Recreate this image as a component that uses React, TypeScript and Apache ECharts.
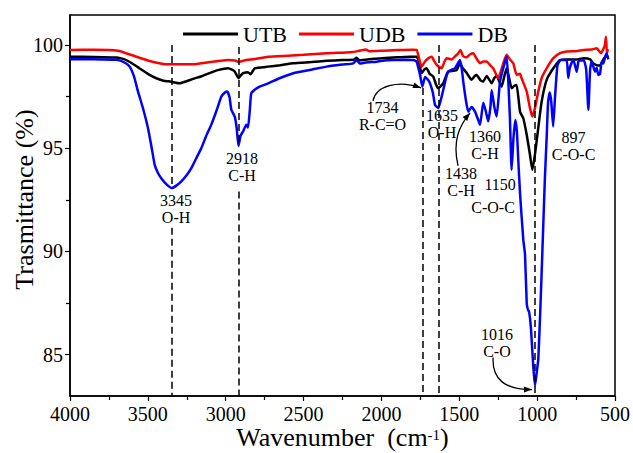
import React, { useEffect, useRef } from "react";
import * as echarts from "echarts";

const SERIES_NAMES = ["UTB", "UDB", "DB"];
const COLORS = ["#000000", "#ff0000", "#0000ff"];

const UTB: [number, number][] = [
  [4000, 99.43], [3850, 99.42], [3700, 99.39], [3650, 99.3], [3600, 99.1], [3550, 98.85], [3500, 98.6],
  [3450, 98.4], [3400, 98.27], [3351, 98.22], [3296, 98.14], [3250, 98.25], [3200, 98.38], [3159, 98.47],
  [3100, 98.65], [3050, 98.78], [2985, 98.87], [2960, 98.8], [2942, 98.71], [2917, 98.39], [2900, 98.55],
  [2889, 98.63], [2857, 98.68], [2840, 98.58], [2814, 98.87], [2728, 98.95], [2650, 99.02], [2566, 99.11],
  [2450, 99.17], [2352, 99.23], [2250, 99.27], [2180, 99.28], [2159, 99.38], [2140, 99.25], [2050, 99.33],
  [2000, 99.35], [1950, 99.38], [1900, 99.4], [1850, 99.42], [1774, 99.43], [1760, 99.2], [1742, 98.63],
  [1725, 98.8], [1710, 98.87], [1690, 98.6], [1667, 98.47], [1650, 98.1], [1635, 97.9], [1620, 98.0],
  [1603, 98.14], [1585, 98.5], [1571, 98.71], [1540, 98.75], [1517, 98.78], [1496, 99.11], [1480, 98.9],
  [1453, 98.65], [1421, 98.31], [1400, 98.5], [1389, 98.55], [1365, 98.3], [1346, 98.23], [1324, 98.5],
  [1292, 98.14], [1275, 98.4], [1260, 98.5], [1228, 97.98], [1210, 98.5], [1196, 98.87], [1180, 98.4],
  [1164, 97.9], [1150, 98.0], [1132, 98.06], [1110, 96.77], [1089, 96.45], [1067, 95.65], [1046, 94.68],
  [1031, 93.95], [1014, 94.7], [993, 95.97], [971, 97.26], [939, 98.31], [896, 98.87], [853, 99.27],
  [810, 99.3], [750, 99.3], [703, 99.35], [660, 99.3], [639, 99.1], [610, 99.0], [596, 99.0], [575, 99.3],
  [554, 99.5], [545, 99.4],
];

const UDB: [number, number][] = [
  [4000, 99.76], [3850, 99.77], [3692, 99.72], [3600, 99.5], [3500, 99.25], [3390, 99.07], [3300, 99.06],
  [3197, 99.07], [3100, 99.17], [2985, 99.27], [2940, 99.25], [2918, 99.18], [2880, 99.25], [2812, 99.32],
  [2728, 99.43], [2600, 99.48], [2500, 99.52], [2352, 99.6], [2200, 99.65], [2150, 99.7], [2100, 99.78],
  [2080, 99.7], [2000, 99.72], [1900, 99.75], [1800, 99.77], [1774, 99.76], [1760, 99.4], [1742, 98.95],
  [1720, 99.2], [1700, 99.35], [1677, 99.43], [1660, 99.2], [1645, 99.03], [1613, 98.87], [1595, 99.2],
  [1581, 99.36], [1549, 99.3], [1520, 99.5], [1506, 99.6], [1493, 99.76], [1475, 99.45], [1453, 99.4],
  [1430, 99.55], [1410, 99.6], [1390, 99.35], [1367, 99.12], [1345, 99.2], [1324, 99.2], [1300, 99.0],
  [1282, 98.87], [1250, 98.39], [1230, 98.8], [1217, 99.12], [1196, 99.52], [1175, 99.3], [1153, 99.1],
  [1132, 98.55], [1110, 98.6], [1100, 98.39], [1067, 97.74], [1046, 96.94], [1031, 96.53], [1014, 96.94],
  [993, 97.74], [971, 98.4], [939, 98.87], [896, 99.36], [853, 99.6], [810, 99.68], [750, 99.7],
  [703, 99.76], [650, 99.78], [618, 99.84], [590, 99.6], [575, 99.8], [565, 100.0], [558, 100.4],
  [552, 99.6], [545, 99.8],
];

const DB: [number, number][] = [
  [4000, 99.31], [3900, 99.31], [3800, 99.3], [3700, 99.28], [3650, 99.15], [3617, 98.95], [3590, 98.5],
  [3563, 97.74], [3530, 96.9], [3499, 95.97], [3475, 95.0], [3456, 94.19], [3435, 93.8], [3414, 93.55],
  [3380, 93.25], [3345, 93.07], [3315, 93.2], [3285, 93.39], [3250, 93.7], [3221, 94.03], [3190, 94.5],
  [3157, 95.0], [3125, 95.6], [3093, 96.13], [3060, 96.8], [3028, 97.5], [3005, 97.7], [2990, 97.74],
  [2975, 97.45], [2964, 96.86], [2942, 96.53], [2930, 96.0], [2918, 95.11], [2905, 95.6], [2889, 95.81],
  [2868, 96.13], [2857, 96.0], [2846, 96.77], [2836, 97.66], [2810, 97.85], [2782, 97.98], [2728, 98.14],
  [2650, 98.4], [2566, 98.63], [2450, 98.8], [2352, 98.95], [2250, 99.05], [2181, 99.11], [2160, 99.27],
  [2140, 99.1], [2100, 99.15], [2030, 99.19], [1980, 99.25], [1924, 99.27], [1850, 99.28], [1795, 99.27],
  [1774, 99.19], [1752, 98.55], [1737, 97.98], [1720, 98.45], [1700, 98.3], [1688, 98.14], [1670, 97.7],
  [1656, 97.1], [1635, 96.94], [1620, 97.3], [1603, 97.82], [1585, 98.4], [1571, 98.71], [1550, 98.8],
  [1528, 98.87], [1510, 99.1], [1496, 99.27], [1485, 98.9], [1474, 98.2], [1455, 97.2], [1442, 96.77],
  [1421, 97.0], [1399, 96.77], [1380, 96.4], [1367, 96.13], [1346, 97.2], [1330, 96.8], [1314, 96.3],
  [1300, 97.0], [1292, 97.82], [1275, 97.0], [1260, 96.53], [1239, 98.2], [1217, 98.9], [1196, 99.43],
  [1185, 98.2], [1175, 96.5], [1164, 93.95], [1152, 95.5], [1140, 96.37], [1130, 95.8], [1121, 94.4],
  [1110, 92.83], [1089, 90.57], [1078, 89.86], [1067, 87.5], [1060, 87.2], [1051, 87.05], [1040, 86.3],
  [1025, 84.44], [1014, 83.5], [1005, 84.0], [993, 84.76], [982, 86.7], [971, 89.0], [961, 91.2],
  [950, 93.6], [939, 95.5], [930, 97.2], [920, 97.7], [910, 97.3], [897, 96.05], [885, 97.5], [870, 99.0],
  [853, 99.25], [830, 99.27], [810, 99.27], [800, 98.4], [790, 98.9], [768, 99.3], [746, 98.7], [735, 99.2],
  [725, 99.25], [700, 99.25], [685, 98.8], [671, 96.86], [660, 98.8], [650, 99.2], [628, 98.7], [618, 98.9],
  [607, 98.55], [596, 98.6], [586, 99.2], [575, 99.1], [564, 99.4], [554, 99.6], [543, 99.3],
];

const Y_MAJOR = [85, 90, 95, 100];
const Y_MINOR = [87.5, 92.5, 97.5];

// dashed reference lines: [wavenumber, yFrom, yTo]
const DASHES: [number, number, number][] = [
  [3345, 100, 93.1], [3345, 91.15, 83],
  [2918, 99.9, 95.3], [2918, 92.9, 83],
  [1734, 97.92, 83],
  [1635, 100, 83],
  [1016, 100, 83],
];

// annotation texts: [text, wavenumber, value]
const LABELS: [string, number, number][] = [
  ["3345\nO-H", 3319, 92.04],
  ["2918\nC-H", 2895, 94.1],
  ["1734\nR-C=O", 1993, 96.54],
  ["1635\nO-H", 1611, 96.18],
  ["1360\nC-H", 1335, 95.16],
  ["1438\nC-H", 1489, 93.35],
  ["1150", 1238, 93.23],
  ["C-O-C", 1283, 92.11],
  ["897\nC-O-C", 766, 95.09],
  ["1016\nC-O", 1258, 85.58],
];

// arrows: start, cp1, cp2, end (wavenumber, value)
const ARROWS: [number, number][][] = [
  [[2054, 97.29], [2035, 98.02], [1894, 98.31], [1746, 97.92]],
  [[1508, 94.15], [1547, 95.4], [1495, 96.13], [1431, 96.71]],
  [[1283, 84.86], [1290, 83.79], [1206, 83.31], [1033, 83.31]],
];

const FONT = "Liberation Serif";

export default function App() {
  const ref = useRef<HTMLDivElement>(null);
  useEffect(() => {
    if (!ref.current) return;
    const chart = echarts.init(ref.current, null, { renderer: "svg" });
    const datas = [UTB, UDB, DB];
    const option: any = {
      animation: false,
      backgroundColor: "#ffffff",
      textStyle: { fontFamily: FONT },
      grid: {
        left: 70, right: 18, top: 15, bottom: 57,
        containLabel: false, outerBoundsMode: "none",
        show: true, borderColor: "#000", borderWidth: 1.5, backgroundColor: "transparent",
      },
      legend: {
        data: SERIES_NAMES,
        left: 178,
        top: 18,
        icon: "rect",
        itemWidth: 55,
        itemHeight: 3,
        itemGap: 12,
        textStyle: { fontFamily: FONT, fontSize: 22, color: "#000" },
      },
      xAxis: {
        type: "value",
        min: 500,
        max: 4000,
        interval: 500,
        inverse: true,
        name: "{a|Wavenumber  (cm}{s|-1}{a|)}",
        nameLocation: "middle",
        nameGap: 31,
        nameMoveOverlap: false,
        nameTextStyle: {
          fontFamily: FONT,
          lineHeight: 21,
          rich: {
            a: { fontFamily: FONT, fontSize: 26, color: "#000", lineHeight: 21 },
            s: { fontFamily: FONT, fontSize: 15, color: "#000", verticalAlign: "top", lineHeight: 21, padding: [0, 0, 12, 0] },
          },
        },
        axisLine: { lineStyle: { color: "#000", width: 1.5 } },
        axisTick: { inside: false, length: 5, lineStyle: { color: "#000", width: 1.2 } },
        minorTick: { show: true, splitNumber: 2, length: 4, lineStyle: { color: "#000", width: 1.2 } },
        axisLabel: { fontFamily: FONT, fontSize: 20, lineHeight: 18, color: "#000", margin: 9, formatter: (v: number) => String(v) },
        splitLine: { show: false },
      },
      yAxis: [
        {
          type: "value",
          min: 83,
          max: 101.45,
          name: "Trasmittance (%)",
          nameLocation: "middle",
          nameGap: 33,
          nameMoveOverlap: false,
          nameTextStyle: { fontFamily: FONT, fontSize: 26, color: "#000", padding: [0, 0, 0, 12] },
          axisLine: { show: true, lineStyle: { color: "#000", width: 1.5 } },
          axisTick: { show: true, length: 5, customValues: Y_MAJOR, lineStyle: { color: "#000", width: 1.2 } },
          axisLabel: { fontFamily: FONT, fontSize: 20, color: "#000", margin: 7, customValues: Y_MAJOR, formatter: (v: number) => String(v) },
          splitLine: { show: false },
        },
        {
          type: "value",
          min: 83,
          max: 101.45,
          position: "left",
          axisLine: { show: false },
          axisTick: { show: true, length: 4, customValues: Y_MINOR, lineStyle: { color: "#000", width: 1.2 } },
          axisLabel: { show: false },
          splitLine: { show: false },
        },
      ],
      series: SERIES_NAMES.map((name, i) => ({
        name,
        type: "line",
        data: datas[i],
        showSymbol: false,
        symbol: "none",
        smooth: 0.15,
        color: COLORS[i],
        lineStyle: { color: COLORS[i], width: 2.5 },
        z: 2 + i,
        markLine:
          i === 0
            ? {
                silent: true,
                symbol: ["none", "none"],
                label: { show: false },
                lineStyle: { color: "#000", type: [7, 4], width: 1.5 },
                data: DASHES.map(([x, y1, y2]) => [{ coord: [x, y1] }, { coord: [x, y2] }]),
              }
            : undefined,
      })),
    };
    chart.setOption(option);

    const px = (p: [number, number]) => chart.convertToPixel({ gridIndex: 0 }, p) as number[];
    const graphics: any[] = [];
    LABELS.forEach(([text, x, y]) => {
      const [gx, gy] = px([x, y]);
      graphics.push({
        type: "text",
        x: gx,
        y: gy,
        z: 100,
        style: { text, font: `16px ${FONT}`, fill: "#000", align: "center", verticalAlign: "middle", lineHeight: 17 },
      });
    });
    ARROWS.forEach((pts) => {
      const [s, c1, c2, e] = pts.map((p) => px(p as [number, number]));
      graphics.push({
        type: "bezierCurve",
        z: 100,
        shape: { x1: s[0], y1: s[1], cpx1: c1[0], cpy1: c1[1], cpx2: c2[0], cpy2: c2[1], x2: e[0], y2: e[1] },
        style: { stroke: "#000", lineWidth: 1.3, fill: "none" },
      });
      const ang = Math.atan2(e[1] - c2[1], e[0] - c2[0]);
      const L = 8, W = 3;
      const bx = e[0] - L * Math.cos(ang), by = e[1] - L * Math.sin(ang);
      graphics.push({
        type: "polygon",
        z: 101,
        shape: {
          points: [
            [e[0], e[1]],
            [bx + W * Math.sin(ang), by - W * Math.cos(ang)],
            [bx - W * Math.sin(ang), by + W * Math.cos(ang)],
          ],
        },
        style: { fill: "#000" },
      });
    });
    chart.setOption({ graphic: graphics });
    return () => chart.dispose();
  }, []);
  return <div ref={ref} style={{ width: 633, height: 453, position: "absolute", left: 0, top: 0 }} />;
}
